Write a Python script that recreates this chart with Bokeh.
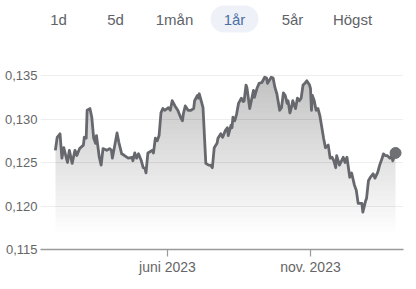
import numpy as np
import pandas as pd
from bokeh.plotting import figure
from bokeh.layouts import column
from bokeh.models import FixedTicker, CustomJSTickFormatter, Range1d, BoxAnnotation
from bokeh.core.properties import value
from bokeh.embed import file_html
from bokeh.resources import INLINE

# ---- data ----
tabs = ["1d", "5d", "1mån", "1år", "5år", "Högst"]
active_tab = "1år"

dates = [
    "2023-02-01", "2023-02-03", "2023-02-06", "2023-02-08", "2023-02-10", "2023-02-14", "2023-02-16", "2023-02-19",
    "2023-02-22", "2023-02-24", "2023-02-27",
    "2023-03-03", "2023-03-04", "2023-03-06", "2023-03-07", "2023-03-10", "2023-03-12", "2023-03-14", "2023-03-16",
    "2023-03-17", "2023-03-20", "2023-03-22", "2023-03-24", "2023-03-28", "2023-03-31",
    "2023-04-02", "2023-04-03", "2023-04-07", "2023-04-08", "2023-04-10", "2023-04-13", "2023-04-16", "2023-04-20",
    "2023-04-24", "2023-04-25", "2023-04-27", "2023-04-29",
    "2023-05-01", "2023-05-04", "2023-05-06", "2023-05-08", "2023-05-09", "2023-05-11", "2023-05-16", "2023-05-17",
    "2023-05-19", "2023-05-21", "2023-05-23", "2023-05-25", "2023-05-27", "2023-05-29",
    "2023-06-02", "2023-06-04", "2023-06-06", "2023-06-09", "2023-06-12", "2023-06-15", "2023-06-17", "2023-06-18",
    "2023-06-20", "2023-06-23", "2023-06-26", "2023-06-29", "2023-06-30",
    "2023-07-03", "2023-07-04", "2023-07-05", "2023-07-07", "2023-07-09", "2023-07-12", "2023-07-15", "2023-07-17",
    "2023-07-19", "2023-07-21", "2023-07-24", "2023-07-25", "2023-07-28", "2023-07-30",
    "2023-08-02", "2023-08-04", "2023-08-05", "2023-08-08", "2023-08-09", "2023-08-10", "2023-08-12", "2023-08-14",
    "2023-08-16", "2023-08-19", "2023-08-21", "2023-08-22", "2023-08-24", "2023-08-25", "2023-08-28",
    "2023-09-01", "2023-09-02", "2023-09-05", "2023-09-07", "2023-09-10", "2023-09-13", "2023-09-15", "2023-09-16",
    "2023-09-20", "2023-09-22", "2023-09-24", "2023-09-26", "2023-09-29",
    "2023-10-01", "2023-10-03", "2023-10-05", "2023-10-07", "2023-10-08", "2023-10-10", "2023-10-12", "2023-10-13",
    "2023-10-16", "2023-10-18", "2023-10-20", "2023-10-22", "2023-10-24", "2023-10-26", "2023-10-28", "2023-10-31",
    "2023-11-01", "2023-11-02", "2023-11-03", "2023-11-05", "2023-11-07", "2023-11-09", "2023-11-11", "2023-11-15",
    "2023-11-17", "2023-11-20", "2023-11-22", "2023-11-24", "2023-11-26", "2023-11-28", "2023-11-29",
    "2023-12-02", "2023-12-06", "2023-12-08", "2023-12-10", "2023-12-13", "2023-12-15", "2023-12-18", "2023-12-20",
    "2023-12-22", "2023-12-24", "2023-12-26", "2023-12-27", "2023-12-30", "2023-12-31",
    "2024-01-02", "2024-01-04", "2024-01-07", "2024-01-09", "2024-01-12", "2024-01-14", "2024-01-17", "2024-01-18",
    "2024-01-20", "2024-01-22", "2024-01-25", "2024-01-27", "2024-01-28", "2024-01-31",
]

prices = [
    0.1264, 0.1279, 0.1283, 0.1255, 0.1267, 0.1250, 0.1264, 0.1249, 0.1264, 0.1258, 0.1266,
    0.1270, 0.1279, 0.1278, 0.1310, 0.1312, 0.1302, 0.1278, 0.1272, 0.1281, 0.1256, 0.1247, 0.1266, 0.1264, 0.1266,
    0.1264, 0.1255, 0.1278, 0.1284, 0.1273, 0.1260, 0.1258, 0.1255, 0.1256, 0.1252, 0.1261, 0.1255,
    0.1260, 0.1252, 0.1244, 0.1243, 0.1238, 0.1261, 0.1264, 0.1261, 0.1278, 0.1275, 0.1281, 0.1307, 0.1312, 0.1310,
    0.1313, 0.1310, 0.1321, 0.1315, 0.1310, 0.1302, 0.1298, 0.1306, 0.1315, 0.1310, 0.1310, 0.1312, 0.1321,
    0.1327, 0.1324, 0.1329, 0.1321, 0.1313, 0.1249, 0.1247, 0.1247, 0.1244, 0.1267, 0.1272, 0.1278, 0.1283, 0.1279,
    0.1287, 0.1290, 0.1281, 0.1293, 0.1290, 0.1302, 0.1298, 0.1306, 0.1318, 0.1324, 0.1320, 0.1321, 0.1339, 0.1336, 0.1312,
    0.1333, 0.1325, 0.1336, 0.1341, 0.1342, 0.1348, 0.1347, 0.1341, 0.1348, 0.1347, 0.1336, 0.1329, 0.1310,
    0.1313, 0.1330, 0.1327, 0.1318, 0.1321, 0.1307, 0.1315, 0.1321, 0.1312, 0.1324, 0.1321, 0.1324, 0.1339, 0.1341, 0.1344, 0.1339,
    0.1335, 0.1310, 0.1327, 0.1321, 0.1310, 0.1312, 0.1304, 0.1278, 0.1267, 0.1270, 0.1255, 0.1256, 0.1252, 0.1244, 0.1258,
    0.1247, 0.1256, 0.1250, 0.1256, 0.1233, 0.1238, 0.1224, 0.1218, 0.1203, 0.1203, 0.1203, 0.1193, 0.1206, 0.1209,
    0.1229, 0.1233, 0.1237, 0.1232, 0.1239, 0.1247, 0.1256, 0.1260, 0.1258, 0.1258, 0.1255, 0.1258, 0.1252, 0.1261,
]

y_ticks = [0.115, 0.120, 0.125, 0.130, 0.135]
x_ticks = ["2023-06-01", "2023-11-01"]

FONT = "Liberation Sans"
LEFT, RIGHT_EDGE, WIN_W = 40, 403, 416

# ---- header with period tabs (its frame is aligned with the chart frame) ----
header = figure(width=WIN_W, height=45, x_range=(LEFT, RIGHT_EDGE), y_range=(45, 0),
                toolbar_location=None, output_backend="svg",
                x_axis_location=None, y_axis_location=None,
                min_border_left=LEFT, min_border_right=WIN_W - RIGHT_EDGE,
                min_border_top=0, min_border_bottom=0)
header.grid.visible = False
header.outline_line_color = None
header.background_fill_color = "white"
tab_x = [58, 115, 174, 234, 292, 352]
ai = tabs.index(active_tab)
header.add_layout(BoxAnnotation(left=tab_x[ai] - 24, right=tab_x[ai] + 24, top=5, bottom=32,
                                fill_color="#eef2f8", fill_alpha=1.0, line_color=None,
                                border_radius=14, level="underlay"))
colors = ["#4a6fa5" if t == active_tab else "#5f6368" for t in tabs]
header.text(x=tab_x, y=[19] * len(tabs), text=tabs, text_color=colors,
            text_font=value(FONT), text_font_size="15px", text_align="center", text_baseline="middle")

# ---- chart ----
x = pd.to_datetime(dates)
y = np.array(prices)

june = pd.Timestamp(x_ticks[0])
px_per_day = 143.0 / 153.0
x_start = june - pd.Timedelta(days=(167 - LEFT) / px_per_day)
x_end = june + pd.Timedelta(days=(RIGHT_EDGE - 167) / px_per_day)

p = figure(width=WIN_W, height=244, x_axis_type="datetime",
           x_range=Range1d(x_start, x_end), y_range=Range1d(0.115, 0.1373),
           toolbar_location=None, output_backend="svg",
           min_border_left=LEFT, min_border_right=WIN_W - RIGHT_EDGE, min_border_top=10, min_border_bottom=40)
p.outline_line_color = None
p.background_fill_color = "white"

# gradient fill under the line (stacked translucent layers)
fill_bottom = 0.11695
fill_top = y.max()
N = 30
for k in range(N):
    lvl = fill_bottom + k * (fill_top - fill_bottom) / N
    p.varea(x=x, y1=np.full(len(y), lvl), y2=np.maximum(y, lvl),
            fill_color="#5f6168", fill_alpha=0.0108)

p.line(x, y, line_color="#66686d", line_width=2.8, line_join="round")
p.scatter(x=[x[-1]], y=[y[-1]], size=11, fill_color="#6e7074", line_color="#6e7074")

# axes
p.yaxis.ticker = FixedTicker(ticks=y_ticks)
p.yaxis.formatter = CustomJSTickFormatter(code="return tick.toFixed(3).replace('.', ',');")
p.yaxis.axis_line_color = None
p.yaxis.major_tick_line_color = None
p.yaxis.major_tick_out = 0
p.yaxis.major_tick_in = 0
p.yaxis.minor_tick_line_color = None
p.yaxis.minor_tick_out = 0
p.yaxis.major_label_standoff = 3
p.yaxis.major_label_text_font = FONT
p.yaxis.major_label_text_font_size = "13px"
p.yaxis.major_label_text_color = "#666666"

p.xaxis.ticker = FixedTicker(ticks=[pd.Timestamp(t).value / 1e6 for t in x_ticks])
p.xaxis.formatter = CustomJSTickFormatter(code="""
const m = ['jan.','feb.','mars','apr.','maj','juni','juli','aug.','sep.','okt.','nov.','dec.'];
const d = new Date(tick);
return m[d.getUTCMonth()] + ' ' + d.getUTCFullYear();
""")
p.xaxis.axis_line_color = "#9a9a9a"
p.xaxis.axis_line_width = 1.6
p.xaxis.major_tick_line_color = "#9a9a9a"
p.xaxis.major_tick_line_width = 1.2
p.xaxis.major_tick_in = 0
p.xaxis.major_tick_out = 7
p.xaxis.minor_tick_line_color = None
p.xaxis.major_label_standoff = 2
p.xaxis.major_label_text_font = FONT
p.xaxis.major_label_text_font_size = "14px"
p.xaxis.major_label_text_color = "#666666"

p.xgrid.visible = False
p.ygrid.ticker = FixedTicker(ticks=y_ticks)
p.ygrid.grid_line_color = "#eeeeee"
p.ygrid.grid_line_width = 1

layout = column(header, p, spacing=0)
open("out.html", "w").write(file_html(layout, INLINE))
